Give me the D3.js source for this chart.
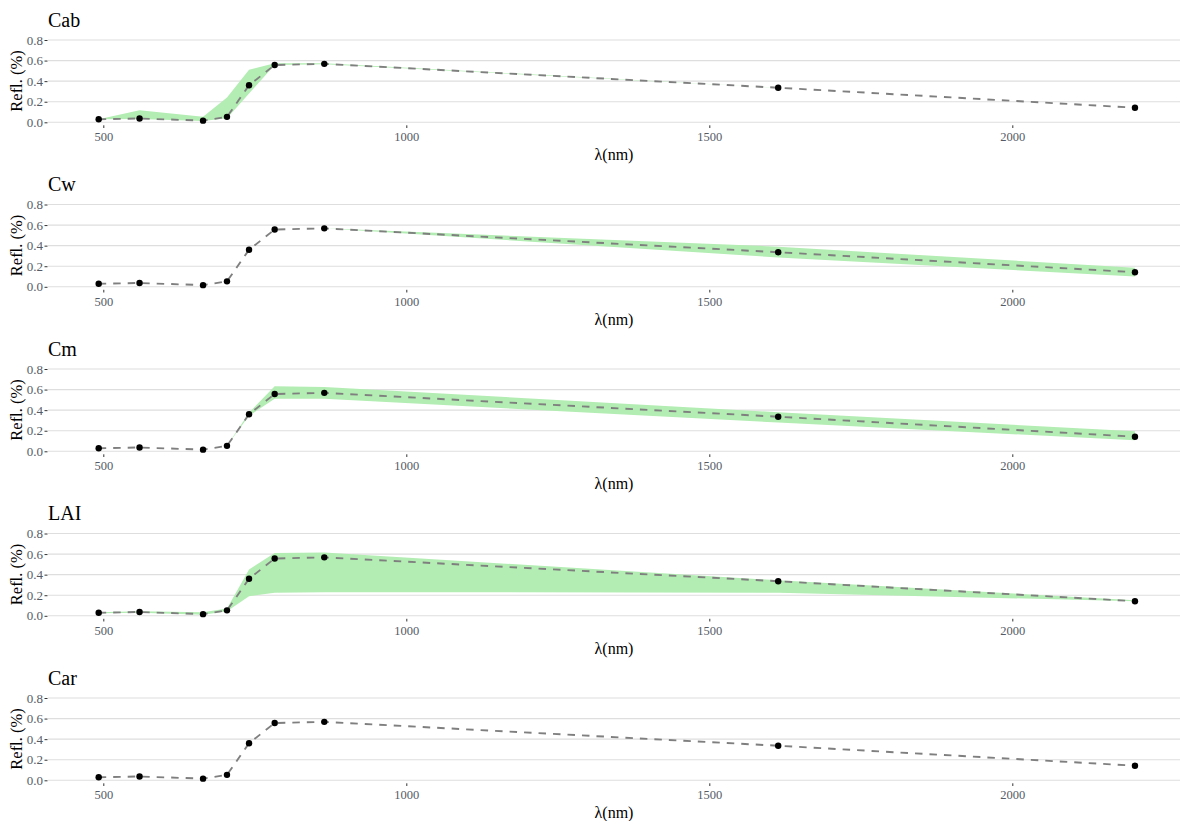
<!DOCTYPE html>
<html>
<head>
<meta charset="utf-8">
<script src="https://cdn.jsdelivr.net/npm/d3@7"></script>
<style>
  body { margin: 0; background: #fff; }
  svg text { font-family: "Liberation Serif", "Times New Roman", serif; }
</style>
</head>
<body>
<script>
// Sentinel-2 band centres (nm) and the reference reflectance
var bands = [492.4, 559.8, 664.6, 704.1, 740.5, 782.8, 864.7, 1613.7, 2202.4];
var refl  = [0.030, 0.037, 0.016, 0.053, 0.360, 0.557, 0.568, 0.336, 0.142];

// panel names
var params = ["Cab", "Cw", "Cm", "LAI", "Car"];

// ribbon bounds per parameter (min / max over the parameter range)
var cabLo = [0.030, 0.033, 0.012, 0.040, 0.280, 0.557, 0.565, 0.336, 0.142];
var cabHi = [0.030, 0.118, 0.055, 0.240, 0.510, 0.575, 0.575, 0.336, 0.142];
var cwLo  = [0.030, 0.037, 0.016, 0.053, 0.360, 0.557, 0.568, 0.285, 0.100];
var cwHi  = [0.030, 0.037, 0.016, 0.053, 0.360, 0.557, 0.568, 0.390, 0.185];
var cmLo  = [0.030, 0.037, 0.016, 0.053, 0.345, 0.510, 0.510, 0.280, 0.107];
var cmHi  = [0.030, 0.037, 0.016, 0.053, 0.375, 0.632, 0.625, 0.380, 0.195];
var laiLo = [0.025, 0.030, 0.010, 0.045, 0.190, 0.225, 0.230, 0.225, 0.142];
var laiHi = [0.035, 0.045, 0.035, 0.070, 0.450, 0.610, 0.615, 0.345, 0.150];
var carLo = [0.030, 0.037, 0.016, 0.053, 0.360, 0.557, 0.568, 0.336, 0.142];
var carHi = [0.030, 0.037, 0.016, 0.053, 0.360, 0.557, 0.568, 0.336, 0.142];

var lows  = [cabLo, cwLo, cmLo, laiLo, carLo];
var highs = [cabHi, cwHi, cmHi, laiHi, carHi];

var xTicks = [500, 1000, 1500, 2000];
var yTicks = [0, 0.2, 0.4, 0.6, 0.8];

var w = 1180;
var h = 821;
var step = 164.5;
var gridLeft = 48;

var svg = d3.select("body")
    .append("svg")
    .attr("width", w)
    .attr("height", h);

// x scale shared by all panels
var xScale = d3.scaleLinear()
    .domain([500, 2000])
    .range([103.3, 1012.3]);

params.forEach(function (name, i) {
    var off = i * step;
    var yScale = d3.scaleLinear()
        .domain([0, 0.8])
        .range([122.3 + off, 40 + off]);

    var g = svg.append("g");

    // horizontal grid
    g.selectAll("line.grid")
        .data(yTicks)
        .enter()
        .append("line")
        .attr("x1", gridLeft)
        .attr("x2", w)
        .attr("y1", function (d) { return yScale(d); })
        .attr("y2", function (d) { return yScale(d); })
        .attr("stroke", "#dedede")
        .attr("stroke-width", 1.1);

    // ribbon
    var rows = bands.map(function (b, k) {
        return { x: b, lo: lows[i][k], hi: highs[i][k], y: refl[k] };
    });
    var area = d3.area()
        .x(function (d) { return xScale(d.x); })
        .y0(function (d) { return yScale(d.lo); })
        .y1(function (d) { return yScale(d.hi); });
    g.append("path")
        .datum(rows)
        .attr("d", area)
        .attr("fill", "#b3edb3");

    // reference spectrum
    var line = d3.line()
        .x(function (d) { return xScale(d.x); })
        .y(function (d) { return yScale(d.y); });
    g.append("path")
        .datum(rows)
        .attr("d", line)
        .attr("fill", "none")
        .attr("stroke", "#7f7f7f")
        .attr("stroke-width", 1.9)
        .attr("stroke-dasharray", "7.5,7");

    g.selectAll("circle")
        .data(rows)
        .enter()
        .append("circle")
        .attr("cx", function (d) { return xScale(d.x); })
        .attr("cy", function (d) { return yScale(d.y); })
        .attr("r", 3.2)
        .attr("fill", "#000");

    // y axis
    var yAxis = d3.axisLeft(yScale)
        .tickValues(yTicks)
        .tickFormat(d3.format(".1f"))
        .tickSize(3)
        .tickPadding(1.5);
    var ya = g.append("g")
        .attr("transform", "translate(47.5,0)")
        .call(yAxis);
    ya.select(".domain").remove();
    ya.selectAll("line").attr("stroke", "#333").attr("stroke-width", 1);
    ya.selectAll("text")
        .attr("font-size", "13px")
        .attr("fill", "#555b66");

    // x axis
    var xAxis = d3.axisBottom(xScale)
        .tickValues(xTicks)
        .tickFormat(d3.format("d"))
        .tickSize(2.7)
        .tickPadding(4.6);
    var xa = g.append("g")
        .attr("transform", "translate(0," + (125.3 + off) + ")")
        .call(xAxis);
    xa.select(".domain").remove();
    xa.selectAll("line").attr("stroke", "#333").attr("stroke-width", 1);
    xa.selectAll("text")
        .attr("font-size", "12.5px")
        .attr("fill", "#555b66");

    // titles
    g.append("text")
        .attr("x", 48)
        .attr("y", 26.5 + off)
        .attr("font-size", "20px")
        .attr("fill", "#000")
        .text(name);

    g.append("text")
        .attr("transform", "translate(22," + (81 + off) + ") rotate(-90)")
        .attr("text-anchor", "middle")
        .attr("font-size", "16.5px")
        .attr("fill", "#000")
        .text("Refl. (%)");

    g.append("text")
        .attr("x", 614)
        .attr("y", 160 + off)
        .attr("text-anchor", "middle")
        .attr("font-size", "16px")
        .attr("fill", "#000")
        .text("λ(nm)");
});
</script>
</body>
</html>
